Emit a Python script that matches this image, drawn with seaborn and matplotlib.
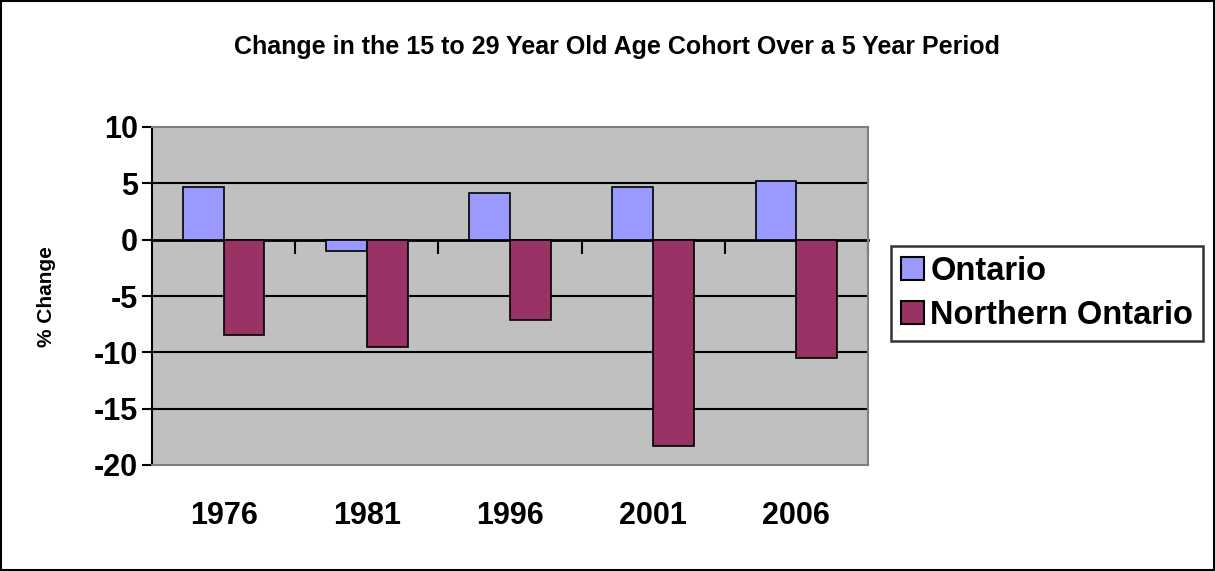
import matplotlib
matplotlib.use("Agg")
import matplotlib.pyplot as plt
import matplotlib.patches as mpatches
import seaborn as sns
import pandas as pd
import numpy as np

years = ["1976", "1981", "1996", "2001", "2006"]
ontario = [4.7, -1.0, 4.1, 4.7, 5.2]
northern = [-8.5, -9.5, -7.1, -18.3, -10.5]
series_names = ["Ontario", "Northern Ontario"]
colors = ["#9999FF", "#993366"]

df = pd.DataFrame({
    "Year": years * 2,
    "Change": ontario + northern,
    "Series": [series_names[0]] * len(years) + [series_names[1]] * len(years),
})

sns.set_theme(style="white")
plt.rcParams["font.family"] = ["Liberation Sans", "DejaVu Sans"]
plt.rcParams["font.weight"] = "bold"
plt.rcParams["axes.unicode_minus"] = False
plt.rcParams["text.color"] = "black"
plt.rcParams["xtick.color"] = "black"
plt.rcParams["ytick.color"] = "black"
plt.rcParams["axes.labelcolor"] = "black"

W, H = 1215, 571
fig = plt.figure(figsize=(W / 100, H / 100), dpi=100)
ax = fig.add_axes([152 / W, 1 - 465 / H, (868 - 152) / W, (465 - 127) / H])
ax.set_facecolor("#C0C0C0")

sns.barplot(data=df, x="Year", y="Change", hue="Series", palette=colors,
            width=0.57, gap=0, edgecolor="black", linewidth=1.2, saturation=1,
            ax=ax, zorder=3, legend=True)

ax.set_xlim(-0.5, len(years) - 0.5)
ax.set_ylim(-20, 10)
ax.set_yticks(np.arange(-20, 11, 5))
for yv in np.arange(-15, 10, 5):
    if yv != 0:
        ax.axhline(yv, color="black", lw=1.5, zorder=1)

for side in ["top", "right", "bottom"]:
    ax.spines[side].set_color("#808080")
    ax.spines[side].set_linewidth(1.5)
ax.spines["left"].set_color("black")
ax.spines["left"].set_linewidth(1.5)

ax.tick_params(axis="y", direction="out", length=7, width=1.5, color="black",
               labelsize=22, pad=3, left=True, labelcolor="black")
ax.tick_params(axis="x", length=0, labelsize=22, pad=26, labelcolor="black")
for lbl in ax.get_xticklabels() + ax.get_yticklabels():
    lbl.set_fontweight("bold")

ax.set_xlabel("")
ax.set_ylabel("% Change", fontsize=15, fontweight="bold", color="black")
ax.yaxis.set_label_coords((56 - 152) / (868 - 152), (465 - 297) / (465 - 127))

# category axis crossing at zero with ticks between categories
zero_frac = (0 - (-20)) / 30
sec = ax.secondary_xaxis(zero_frac)
sec.set_xticks(np.arange(len(years) + 1)[1:] - 0.5)
sec.xaxis.set_ticks_position("bottom")
sec.tick_params(axis="x", direction="out", length=10, width=1.5, color="black",
                labelbottom=False, labeltop=False, bottom=True, top=False)
sec.set_xticklabels([])
for s in sec.spines.values():
    s.set_linewidth(2)
    s.set_color("black")

fig.text(617 / W, 1 - 47 / H,
         "Change in the 15 to 29 Year Old Age Cohort Over a 5 Year Period",
         ha="center", va="center", fontsize=18, fontweight="bold", color="black")

ax.get_legend().remove()
handles = [mpatches.Patch(facecolor=c, edgecolor="black", lw=1.5) for c in colors]
leg = fig.legend(handles, series_names, loc="upper left",
                 bbox_to_anchor=(891 / W, 1 - 246 / H), borderaxespad=0,
                 frameon=True, fancybox=False, handlelength=0.7,
                 handleheight=0.7, handletextpad=0.2, borderpad=0.3,
                 labelspacing=0.4, prop={"weight": "bold", "size": 23.5})
leg.get_frame().set_edgecolor("black")
leg.get_frame().set_linewidth(1.8)

fig.patches.append(mpatches.Rectangle((0.001, 0.001), 0.998, 0.997, transform=fig.transFigure,
                                      fill=False, edgecolor="black", lw=1.5))

fig.savefig("out.png", dpi=100, facecolor="white")
